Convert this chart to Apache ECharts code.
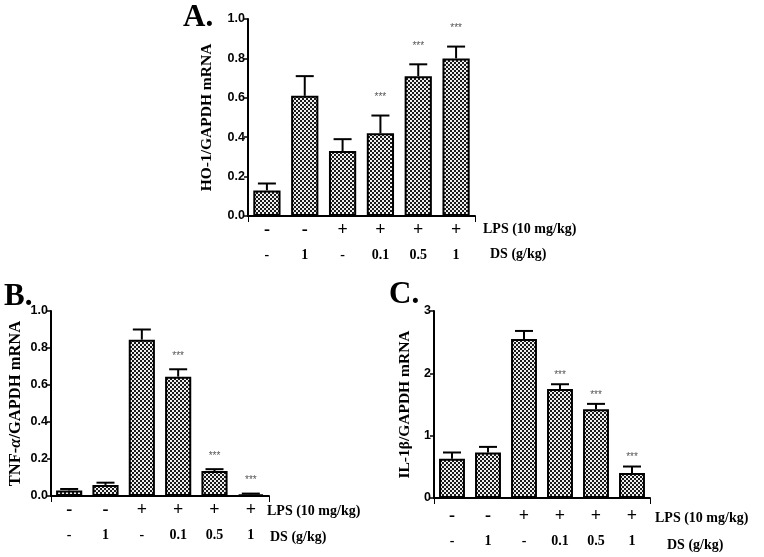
<!DOCTYPE html>
<html>
<head>
<meta charset="utf-8">
<script src="https://cdn.jsdelivr.net/npm/echarts@6/dist/echarts.min.js"></script>
<style>html,body{margin:0;padding:0;background:#fff}#c{width:764px;height:557px}</style>
</head>
<body>
<div id="c"></div>
<script>
// ---- data ----
const groups = ['G1', 'G2', 'G3', 'G4', 'G5', 'G6'];
const lpsSigns = ['-', '-', '+', '+', '+', '+'];
const dsDoses = ['-', '1', '-', '0.1', '0.5', '1'];

const hoMean = [0.13, 0.61, 0.33, 0.42, 0.71, 0.80];
const hoErr  = [0.035, 0.10, 0.06, 0.09, 0.06, 0.06];
const hoSig  = [0, 0, 0, 1, 1, 1];

const tnfMean = [0.03, 0.06, 0.845, 0.645, 0.135, 0.009];
const tnfErr  = [0.008, 0.012, 0.055, 0.04, 0.01, 0.004];
const tnfSig  = [0, 0, 0, 1, 1, 1];

const ilMean = [0.63, 0.73, 2.55, 1.75, 1.425, 0.40];
const ilErr  = [0.10, 0.09, 0.13, 0.075, 0.085, 0.105];
const ilSig  = [0, 0, 0, 1, 1, 1];

// ---- pattern ----
const pc = document.createElement('canvas');
pc.width = 4; pc.height = 4;
const px = pc.getContext('2d');
px.fillStyle = '#efefef'; px.fillRect(0, 0, 4, 4);
px.fillStyle = '#1a1a1a';
px.fillRect(0, 0, 2, 2); px.fillRect(2, 2, 2, 2);
const hatch = { image: pc, repeat: 'repeat' };

const serif = '"Liberation Serif", "Times New Roman", serif';
const narrow = '"Liberation Sans Narrow", "Arial Narrow", "Liberation Sans", sans-serif';

const panels = [
  { left: 248, top: 19, width: 227, height: 197, max: 1.0, interval: 0.2, dec: 1, nameSize: 15.5,
    mean: hoMean, err: hoErr, sig: hoSig, name: 'HO-1/GAPDH mRNA', nameGap: 33, starOff: 18, labMargin: 2 },
  { left: 51, top: 311, width: 218, height: 185, max: 1.0, interval: 0.2, dec: 1, nameSize: 16.5,
    mean: tnfMean, err: tnfErr, sig: tnfSig, name: 'TNF-{i|α}/GAPDH mRNA', nameGap: 27, starOff: 13, labMargin: 2 },
  { left: 434, top: 311, width: 216, height: 187, max: 3, interval: 1, dec: 0, nameSize: 15.5,
    mean: ilMean, err: ilErr, sig: ilSig, name: 'IL-1β/GAPDH mRNA', nameGap: 21, starOff: 9, labMargin: 6 }
];

const grid = [], xAxis = [], yAxis = [], series = [];
panels.forEach((p, k) => {
  grid.push({ left: p.left, top: p.top, width: p.width, height: p.height });
  xAxis.push({
    type: 'category', gridIndex: k, data: groups,
    axisLine: { lineStyle: { color: '#000', width: 2 } },
    axisTick: { show: true, length: 6, interval: (i) => i === 3, lineStyle: { color: '#000', width: 1 } },
    axisLabel: {
      margin: p.labMargin, interval: 0,
      formatter: (v, i) => '{s|' + lpsSigns[i] + '}\n{d|' + dsDoses[i] + '}',
      rich: {
        s: { fontFamily: serif, fontWeight: 'bold', fontSize: 18, lineHeight: 25, color: '#000' },
        d: { fontFamily: serif, fontWeight: 'bold', fontSize: 14, lineHeight: 25, color: '#000' }
      }
    }
  });
  yAxis.push({
    type: 'value', gridIndex: k, min: 0, max: p.max, interval: p.interval,
    name: p.name, nameLocation: 'middle', nameRotate: 90, nameGap: p.nameGap,
    nameTextStyle: { fontFamily: serif, fontWeight: 'bold', fontSize: p.nameSize, color: '#000',
      rich: { i: { fontFamily: serif, fontWeight: 'bold', fontStyle: 'italic', fontSize: p.nameSize, color: '#000' } } },
    axisLine: { show: true, lineStyle: { color: '#000', width: 2 } },
    axisTick: { show: true, length: 4, lineStyle: { color: '#000', width: 1.5 } },
    axisLabel: { margin: 3, fontFamily: narrow, fontWeight: 'bold', fontSize: 12.5, color: '#000',
      formatter: (v) => v.toFixed(p.dec) },
    splitLine: { show: false }
  });
  series.push({
    type: 'bar', xAxisIndex: k, yAxisIndex: k, data: p.mean, barWidth: '72%',
    itemStyle: { color: hatch, borderColor: '#000', borderWidth: 2 },
    silent: true, animation: false
  });
  series.push({
    type: 'custom', xAxisIndex: k, yAxisIndex: k, animation: false, silent: true, z: 5,
    data: p.mean.map((m, i) => [i, m, p.err[i], p.sig[i]]),
    renderItem: (params, api) => {
      const i = api.value(0), m = api.value(1), e = api.value(2), s = api.value(3);
      const b = api.coord([i, m]);
      const t = api.coord([i, m + e]);
      const half = 9;
      const children = [
        { type: 'line', shape: { x1: b[0], y1: b[1], x2: t[0], y2: t[1] }, style: { stroke: '#000', lineWidth: 2 } },
        { type: 'line', shape: { x1: t[0] - half, y1: t[1], x2: t[0] + half, y2: t[1] }, style: { stroke: '#000', lineWidth: 2 } }
      ];
      if (s) {
        children.push({ type: 'text', x: t[0], y: t[1] - p.starOff,
          style: { text: '***', fill: '#555', font: '10px "Liberation Sans", sans-serif', align: 'center', verticalAlign: 'middle' } });
      }
      return { type: 'group', children };
    }
  });
});

const tf = (sz) => 'bold ' + sz + 'px ' + serif;
const graphic = [
  { type: 'text', x: 183, y: 18, style: { text: 'A.', font: tf(31), fill: '#000', verticalAlign: 'middle' } },
  { type: 'text', x: 4, y: 297, style: { text: 'B.', font: tf(31), fill: '#000', verticalAlign: 'middle' } },
  { type: 'text', x: 389, y: 295, style: { text: 'C.', font: tf(31), fill: '#000', verticalAlign: 'middle' } },
  { type: 'text', x: 483, y: 229, style: { text: 'LPS (10 mg/kg)', font: tf(14), fill: '#000', verticalAlign: 'middle' } },
  { type: 'text', x: 490, y: 254, style: { text: 'DS (g/kg)', font: tf(14), fill: '#000', verticalAlign: 'middle' } },
  { type: 'text', x: 267, y: 511, style: { text: 'LPS (10 mg/kg)', font: tf(14), fill: '#000', verticalAlign: 'middle' } },
  { type: 'text', x: 270, y: 537, style: { text: 'DS (g/kg)', font: tf(14), fill: '#000', verticalAlign: 'middle' } },
  { type: 'text', x: 655, y: 518, style: { text: 'LPS (10 mg/kg)', font: tf(14), fill: '#000', verticalAlign: 'middle' } },
  { type: 'text', x: 667, y: 545, style: { text: 'DS (g/kg)', font: tf(14), fill: '#000', verticalAlign: 'middle' } }
];

const chart = echarts.init(document.getElementById('c'), null, { renderer: 'canvas' });
chart.setOption({ animation: false, grid, xAxis, yAxis, series, graphic });
</script>
</body>
</html>
